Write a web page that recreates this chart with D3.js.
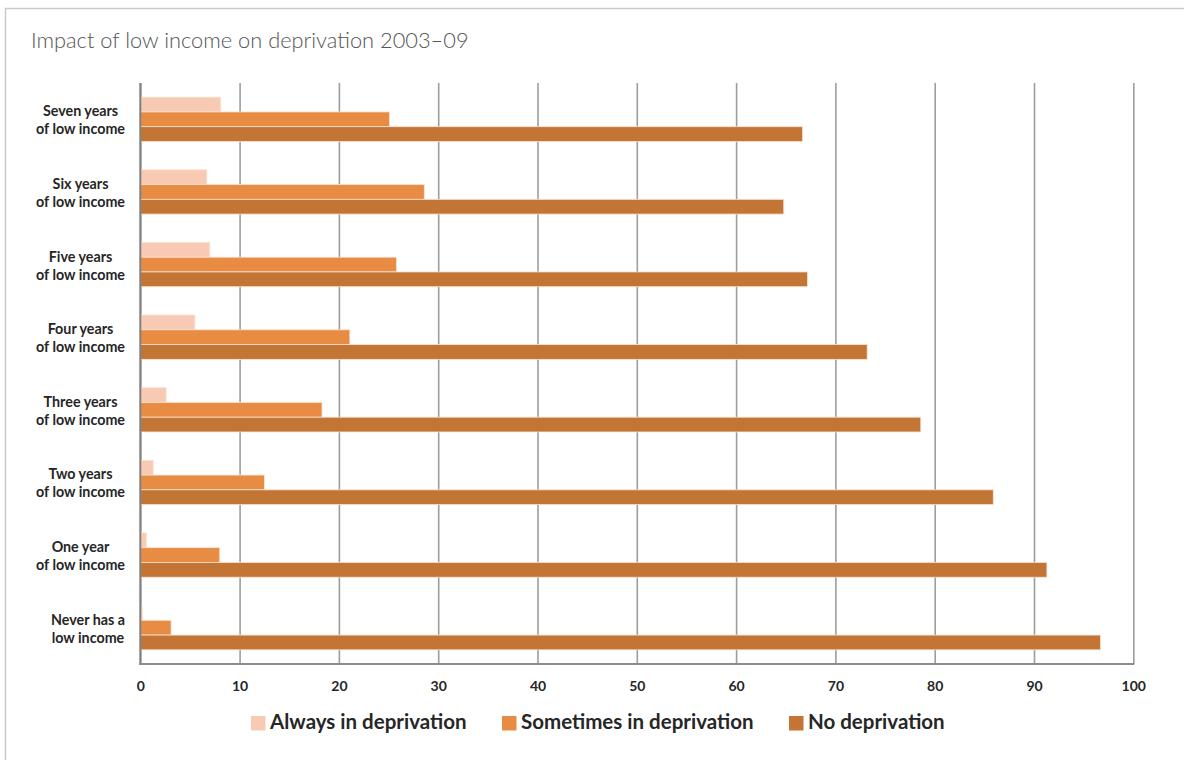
<!DOCTYPE html>
<html>
<head>
<meta charset="utf-8">
<script src="https://cdn.jsdelivr.net/npm/d3@7/dist/d3.min.js"></script>
<style>
  html, body { margin: 0; padding: 0; background: #ffffff; }
  svg { display: block; }
</style>
</head>
<body>
<svg id="chart" width="1184" height="760"></svg>
<script>
// Categories, top to bottom (two text lines each)
const categories = [
  ["Seven years", "of low income"],
  ["Six years", "of low income"],
  ["Five years", "of low income"],
  ["Four years", "of low income"],
  ["Three years", "of low income"],
  ["Two years", "of low income"],
  ["One year", "of low income"],
  ["Never has a", "low income"]
];
const seriesNames = ["Always in deprivation", "Sometimes in deprivation", "No deprivation"];
const always    = [8.1, 6.7, 7.0, 5.5, 2.6, 1.3, 0.6, 0.2];
const sometimes = [25.1, 28.6, 25.8, 21.1, 18.3, 12.5, 8.0, 3.1];
const noDepr    = [66.7, 64.8, 67.2, 73.2, 78.6, 85.9, 91.3, 96.7];
const tickValues = [0, 10, 20, 30, 40, 50, 60, 70, 80, 90, 100];
const colors = ["#f8cab3", "#e88c43", "#c37535"];

const seriesValues = [always, sometimes, noDepr];
const svg = d3.select("#chart");
const FONT = "Lato, 'Open Sans', sans-serif";

// Outer frame
svg.append("rect")
  .attr("x", 5.5).attr("y", 8.5)
  .attr("width", 1200).attr("height", 800)
  .attr("fill", "none").attr("stroke", "#c9c9c9").attr("stroke-width", 1.5);

// Title
svg.append("text")
  .attr("x", 31).attr("y", 48)
  .attr("font-family", FONT).attr("font-weight", 300)
  .attr("font-size", 21.8).attr("fill", "#555555")
  .text("Impact of low income on deprivation 2003\u201309");

const plot = { left: 140.3, right: 1133.3, top: 83, bottom: 664 };

const x = d3.scaleLinear().domain([0, 100]).range([plot.left, plot.right]);
const y = d3.scaleBand()
  .domain(d3.range(categories.length))
  .range([plot.top, plot.bottom])
  .paddingInner(0.39).paddingOuter(0.195);
const ySub = d3.scaleBand()
  .domain(d3.range(seriesNames.length))
  .range([0, y.bandwidth()]);

// Vertical gridlines
const grid = svg.append("g")
  .attr("transform", `translate(0,${plot.bottom})`)
  .call(d3.axisBottom(x).tickValues(tickValues).tickSize(-(plot.bottom - plot.top)).tickFormat(""));
grid.select(".domain").remove();
grid.selectAll(".tick line")
  .attr("stroke", "#9d9d9d").attr("stroke-width", 1.6);

// Bars
const rows = svg.append("g").selectAll("g")
  .data(categories.map((c, i) => i))
  .join("g")
  .attr("transform", i => `translate(0,${y(i)})`);

rows.selectAll("rect")
  .data(i => seriesValues.map((vals, s) => ({ s, v: vals[i] })))
  .join("rect")
  .attr("x", x(0))
  .attr("y", d => ySub(d.s))
  .attr("width", d => x(d.v) - x(0))
  .attr("height", ySub.bandwidth())
  .attr("fill", d => colors[d.s])
  .attr("stroke", "#fbe2d2").attr("stroke-width", 0.8);

// Axis lines (left and bottom)
svg.append("line")
  .attr("x1", plot.left).attr("x2", plot.left)
  .attr("y1", plot.top).attr("y2", plot.bottom + 1)
  .attr("stroke", "#808080").attr("stroke-width", 2);
svg.append("line")
  .attr("x1", plot.left - 1).attr("x2", plot.right + 1)
  .attr("y1", plot.bottom).attr("y2", plot.bottom)
  .attr("stroke", "#8c8c8c").attr("stroke-width", 2);

// Tick labels
const xAxis = svg.append("g")
  .attr("transform", `translate(0,${plot.bottom})`)
  .call(d3.axisBottom(x).tickValues(tickValues).tickSize(0).tickPadding(17).tickFormat(d3.format("d")));
xAxis.select(".domain").remove();
xAxis.selectAll("text")
  .attr("font-family", FONT).attr("font-weight", 700)
  .attr("font-size", 14).attr("fill", "#262626");

// Category labels: each block right-aligned, lines centred within it
const labelRight = 125;
const labels = svg.append("g").selectAll("text")
  .data(categories.map((c, i) => ({ c, i })))
  .join("text")
  .attr("font-family", FONT).attr("font-weight", 700)
  .attr("font-size", 14.3).attr("fill", "#262626")
  .attr("text-anchor", "middle");
labels.each(function(d) {
  const t = d3.select(this);
  const cy = y(d.i) + y.bandwidth() / 2;
  d.c.forEach((line, k) => {
    t.append("tspan").attr("y", cy - 3 + k * 18).text(line);
  });
  let w = 0;
  t.selectAll("tspan").each(function() { w = Math.max(w, this.getComputedTextLength()); });
  t.selectAll("tspan").attr("x", labelRight - w / 2);
});

// Legend
const legendX = [251, 502, 789];
const legend = svg.append("g").selectAll("g")
  .data(seriesNames.map((n, s) => ({ n, s })))
  .join("g")
  .attr("transform", d => `translate(${legendX[d.s]},716)`);
legend.append("rect")
  .attr("width", 14.5).attr("height", 14.5)
  .attr("fill", d => colors[d.s]);
legend.append("text")
  .attr("x", 19).attr("y", 12.5)
  .attr("font-family", FONT).attr("font-weight", 700)
  .attr("font-size", 20.5).attr("fill", "#262626")
  .text(d => d.n);
</script>
</body>
</html>
